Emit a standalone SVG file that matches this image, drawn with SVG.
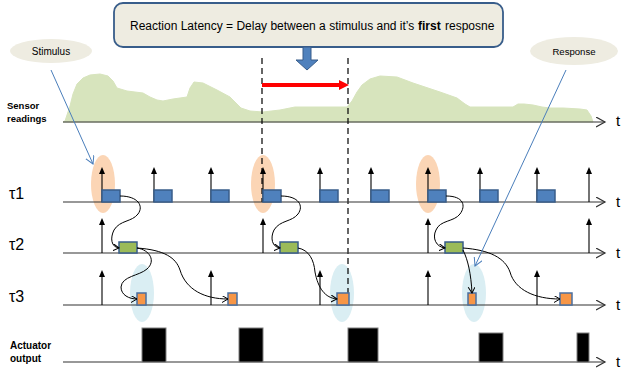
<svg xmlns="http://www.w3.org/2000/svg" width="624" height="372" viewBox="0 0 624 372">
  <style>
    .axis { stroke: #333; stroke-width: 1.2; fill: none; }
    .lbl { font-family: "Liberation Sans", Arial, sans-serif; fill: #000; }
    .tlbl { font-family: "Liberation Sans", Arial, sans-serif; font-size: 15px; fill: #000; }
    .task { font-family: "Liberation Sans", Arial, sans-serif; font-size: 16px; fill: #000; }
    .bold { font-weight: bold; }
    .job1 { fill: #4f81bd; stroke: #385d8a; stroke-width: 1.5; }
    .job2 { fill: #9bbb59; stroke: #385d8a; stroke-width: 1.5; }
    .job3 { fill: #f79646; stroke: #4a6fa0; stroke-width: 1.5; }
    .stim { fill: #fbd5b5; }
    .resp { fill: #daeef3; }
    .pulse { fill: #000; stroke: #7f7f7f; stroke-width: 1; }
    .flow { stroke: #000; stroke-width: 1; fill: none; marker-end: url(#open); }
    .hint { stroke: #4a7ebb; stroke-width: 1; fill: none; marker-end: url(#openBlue); }
    .dash { stroke: #000; stroke-width: 1.2; stroke-dasharray: 6 4; fill: none; }
  </style>
  <defs>
    <marker id="open" markerUnits="userSpaceOnUse" markerWidth="10" markerHeight="10" refX="6" refY="3.5" orient="auto">
      <path d="M0,0 L6,3.5 L0,7" fill="none" stroke="#000" stroke-width="1"/>
    </marker>
    <marker id="openBlue" markerUnits="userSpaceOnUse" markerWidth="12" markerHeight="12" refX="8" refY="4.5" orient="auto">
      <path d="M0,0 L8,4.5 L0,9" fill="none" stroke="#4a7ebb" stroke-width="1"/>
    </marker>
    <marker id="axisHead" markerUnits="userSpaceOnUse" markerWidth="12" markerHeight="12" refX="9" refY="5" orient="auto">
      <path d="M0,0 L9,5 L0,10" fill="none" stroke="#333" stroke-width="1.2"/>
    </marker>
    <g id="tick">
      <line x1="0" y1="0" x2="0" y2="-29" stroke="#000" stroke-width="1.1"/>
      <path d="M-3,-28 L0,-35 L3,-28 Z" fill="#000"/>
    </g>
  </defs>

  <rect width="624" height="372" fill="#fff"/>

  <!-- sensor trace -->
  <g id="sensor">
    <path d="M63,122 L65,121 L70,106 L73,94 L77,84 L83,78 L90,75 L100,74 L108,76 L113,81 L117,88 L127,91 L143,93 L150,97 L157,100 L163,101 L173,99 L187,97 L190,88 L194,82 L203,83 L217,90 L230,97 L236,103 L241,108 L250,111 L263,112 L280,110 L295,107 L320,107 L347,107 L352,101 L357,92 L362,85 L370,79 L380,76 L397,77 L413,83 L440,92 L457,98 L465,104 L470,107 L487,107 L513,107 L518,104 L524,104 L533,105 L542,107 L550,108 L563,108 L580,109 L587,110 L591,116 L593,122 Z" fill="#d7e4bd" stroke="#d7e4bd" stroke-width="1" stroke-linejoin="round"/>
    <line class="axis" x1="63" y1="122" x2="605" y2="122" marker-end="url(#axisHead)"/>
    <text class="tlbl" x="616" y="126">t</text>
    <text class="lbl bold" font-size="9.5" x="7" y="109">Sensor</text>
    <text class="lbl bold" font-size="9.5" x="7" y="122">readings</text>
  </g>

  <!-- highlight ellipses -->
  <g id="stimulus-marks">
    <ellipse class="stim" cx="103" cy="184" rx="12" ry="29"/>
    <ellipse class="stim" cx="263" cy="184" rx="12" ry="29"/>
    <ellipse class="stim" cx="428" cy="184" rx="12" ry="29"/>
  </g>
  <g id="response-marks">
    <ellipse class="resp" cx="142" cy="293" rx="12" ry="29"/>
    <ellipse class="resp" cx="342" cy="293" rx="12" ry="29"/>
    <ellipse class="resp" cx="474" cy="293" rx="12" ry="29"/>
  </g>

  <!-- latency window -->
  <g id="latency">
    <line class="dash" x1="262" y1="58" x2="262" y2="202"/>
    <line class="dash" x1="348" y1="58" x2="348" y2="305"/>
    <line x1="262" y1="85" x2="340" y2="85" stroke="#ff0000" stroke-width="4"/>
    <path d="M339,80 L349,85 L339,90 Z" fill="#ff0000"/>
  </g>

  <!-- task 1 -->
  <g id="task1">
    <line class="axis" x1="63" y1="202" x2="605" y2="202" marker-end="url(#axisHead)"/>
    <text class="tlbl" x="616" y="207">t</text>
    <text class="task" x="9" y="199">τ1</text>
    <use href="#tick" x="102" y="202"/>
    <use href="#tick" x="154" y="202"/>
    <use href="#tick" x="211" y="202"/>
    <use href="#tick" x="263" y="202"/>
    <use href="#tick" x="320" y="202"/>
    <use href="#tick" x="371" y="202"/>
    <use href="#tick" x="428" y="202"/>
    <use href="#tick" x="480" y="202"/>
    <use href="#tick" x="537" y="202"/>
    <use href="#tick" x="589" y="202"/>
    <rect class="job1" x="102" y="190" width="18" height="12"/>
    <rect class="job1" x="154" y="190" width="18" height="12"/>
    <rect class="job1" x="211" y="190" width="18" height="12"/>
    <rect class="job1" x="263" y="190" width="18" height="12"/>
    <rect class="job1" x="320" y="190" width="18" height="12"/>
    <rect class="job1" x="371" y="190" width="18" height="12"/>
    <rect class="job1" x="428" y="190" width="18" height="12"/>
    <rect class="job1" x="480" y="190" width="18" height="12"/>
    <rect class="job1" x="537" y="190" width="18" height="12"/>
  </g>

  <!-- task 2 -->
  <g id="task2">
    <line class="axis" x1="63" y1="253" x2="605" y2="253" marker-end="url(#axisHead)"/>
    <text class="tlbl" x="616" y="258">t</text>
    <text class="task" x="9" y="250">τ2</text>
    <use href="#tick" x="102" y="253"/>
    <use href="#tick" x="263" y="253"/>
    <use href="#tick" x="428" y="253"/>
    <use href="#tick" x="589" y="253"/>
    <rect class="job2" x="119" y="242" width="18" height="11"/>
    <rect class="job2" x="280" y="242" width="18" height="11"/>
    <rect class="job2" x="445" y="242" width="18" height="11"/>
  </g>

  <!-- task 3 -->
  <g id="task3">
    <line class="axis" x1="63" y1="305" x2="605" y2="305" marker-end="url(#axisHead)"/>
    <text class="tlbl" x="616" y="310">t</text>
    <text class="task" x="9" y="302">τ3</text>
    <use href="#tick" x="102" y="305"/>
    <use href="#tick" x="211" y="305"/>
    <use href="#tick" x="320" y="305"/>
    <use href="#tick" x="428" y="305"/>
    <use href="#tick" x="537" y="305"/>
    <rect class="job3" x="137" y="293" width="9" height="12"/>
    <rect class="job3" x="228" y="293" width="9" height="12"/>
    <rect class="job3" x="337" y="293" width="12" height="12"/>
    <rect class="job3" x="468" y="293" width="8" height="12"/>
    <rect class="job3" x="560" y="293" width="12" height="12"/>
  </g>

  <!-- actuator -->
  <g id="actuator">
    <line class="axis" x1="63" y1="362" x2="605" y2="362" marker-end="url(#axisHead)"/>
    <text class="tlbl" x="616" y="367">t</text>
    <text class="lbl bold" font-size="10" x="10" y="349">Actuator</text>
    <text class="lbl bold" font-size="10" x="10" y="362">output</text>
    <rect class="pulse" x="142" y="328" width="24" height="34"/>
    <rect class="pulse" x="239" y="328" width="24" height="34"/>
    <rect class="pulse" x="348" y="328" width="30" height="34"/>
    <rect class="pulse" x="479" y="333" width="24" height="29"/>
    <rect class="pulse" x="577" y="333" width="12" height="29"/>
  </g>

  <!-- job-to-job connectors -->
  <g id="connectors">
    <path class="flow" d="M120,196 C138,196 144,206 138,214 C132,222 120,220 114,230 C110,238 111,247 119,248"/>
    <path class="flow" d="M137,248 C150,250 156,261 147,269 C139,276 122,276 121,287 C121,295 129,299 137,299"/>
    <path class="flow" d="M137,248 C165,250 176,258 180,270 C186,290 205,299 228,299"/>
    <path class="flow" d="M281,196 C299,196 304,206 298,214 C292,222 280,220 274,230 C270,238 272,247 280,248"/>
    <path class="flow" d="M298,248 C309,250 314,260 315,272 C318,288 325,298 337,299"/>
    <path class="flow" d="M446,196 C464,196 466,206 460,214 C454,222 440,220 436,230 C432,238 436,247 445,248"/>
    <path class="flow" d="M463,250 C468,260 471,274 472,293"/>
    <path class="flow" d="M463,248 C490,250 505,258 510,272 C515,290 535,299 560,299"/>
  </g>

  <!-- callouts -->
  <g id="stimulus">
    <ellipse cx="51" cy="51" rx="41" ry="12" fill="#eeece1"/>
    <text class="lbl" font-size="10" x="51" y="55" text-anchor="middle">Stimulus</text>
    <line class="hint" x1="51" y1="70" x2="93" y2="164"/>
  </g>
  <g id="response">
    <ellipse cx="574" cy="51" rx="44" ry="14" fill="#eeece1"/>
    <text class="lbl" font-size="9.6" x="574" y="55" text-anchor="middle">Response</text>
    <line class="hint" x1="566" y1="70" x2="475" y2="266"/>
  </g>
  <g id="definition">
    <rect x="114" y="3" width="389" height="44" rx="9" fill="#eeece1" stroke="#385d8a" stroke-width="1.8"/>
    <text class="lbl" font-size="12" x="130" y="30">Reaction Latency = Delay between a stimulus and it’s</text>
    <text class="lbl bold" font-size="12" x="418" y="30">first</text>
    <text class="lbl" font-size="12" x="445" y="30">resposne</text>
    <path d="M303,47 L311,47 L311,60 L318,60 L307,70 L296,60 L303,60 Z" fill="#4f81bd" stroke="#385d8a" stroke-width="1"/>
  </g>
</svg>
